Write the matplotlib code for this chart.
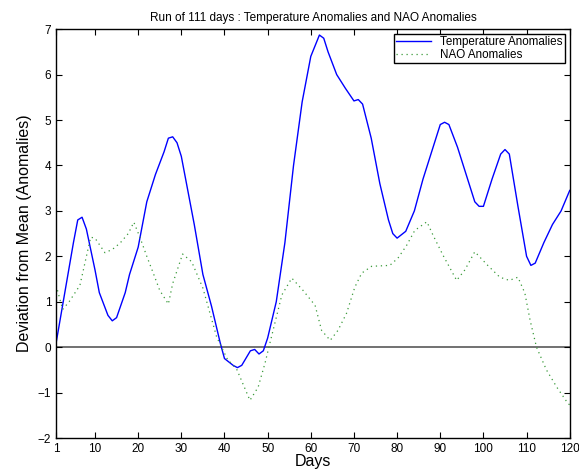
import matplotlib
matplotlib.use("Agg")
from matplotlib import pyplot as plt

plt.rcParams["font.family"] = ["Liberation Sans", "DejaVu Sans"]

# temperature anomalies
temp_days = [1, 3, 5, 6, 7, 8, 10, 11, 13, 14, 15, 17, 18, 20, 21, 22, 24, 26,
             27, 28, 29, 30, 31, 33, 35, 37, 39, 40, 42, 43, 44, 46, 47, 48, 49,
             50, 52, 54, 56, 58, 60, 62, 63, 64, 66, 68, 70, 71, 72, 74, 76, 78,
             79, 80, 82, 84, 86, 88, 90, 91, 92, 94, 96, 98, 99, 100, 102, 104,
             105, 106, 108, 110, 111, 112, 114, 116, 118, 120]
temp_vals = [0.1, 1.2, 2.3, 2.8, 2.86, 2.6, 1.7, 1.2, 0.7, 0.58, 0.65, 1.2, 1.6,
             2.2, 2.7, 3.2, 3.8, 4.3, 4.6, 4.63, 4.5, 4.2, 3.7, 2.7, 1.6, 0.9,
             0.1, -0.25, -0.4, -0.45, -0.4, -0.08, -0.05, -0.15, -0.08, 0.2, 1.0,
             2.3, 4.0, 5.4, 6.4, 6.87, 6.8, 6.5, 6.0, 5.7, 5.42, 5.45, 5.35, 4.6,
             3.6, 2.8, 2.5, 2.4, 2.55, 3.0, 3.7, 4.3, 4.9, 4.95, 4.9, 4.4, 3.8,
             3.2, 3.1, 3.1, 3.7, 4.25, 4.35, 4.25, 3.1, 2.0, 1.8, 1.85, 2.3, 2.7,
             3.0, 3.45]

# NAO anomalies
nao_days = [1, 2.5, 4, 6.5, 9, 10, 12.3, 14, 15.8, 17.7, 19, 20.4, 22, 23.5,
            25, 27, 28, 30.3, 32.4, 35, 38.2, 40.6, 42.9, 45.9, 47.8, 49.4,
            50.5, 53.3, 55.6, 58.2, 61, 62.5, 64.5, 66.3, 68.3, 70.2, 71.8,
            74.1, 78.3, 80.2, 82.2, 84.1, 86.9, 88.3, 90.6, 93.8, 95.7, 98,
            101, 103.8, 106, 108, 109.6, 110.8, 112.3, 114.6, 117, 119.6, 120]
nao_vals = [1.36, 0.83, 1.0, 1.36, 2.42, 2.4, 2.08, 2.15, 2.29, 2.5, 2.75, 2.42,
            2.0, 1.63, 1.25, 0.95, 1.4, 2.05, 1.88, 1.3, 0.22, -0.25, -0.5,
            -1.17, -0.88, -0.35, 0.08, 1.15, 1.52, 1.25, 0.92, 0.37, 0.15, 0.37,
            0.75, 1.32, 1.63, 1.78, 1.8, 1.96, 2.24, 2.57, 2.76, 2.47, 2.03,
            1.47, 1.7, 2.1, 1.8, 1.54, 1.47, 1.54, 1.19, 0.6, 0.0, -0.5, -0.88,
            -1.24, -1.27]

x_ticks = [1, 10, 20, 30, 40, 50, 60, 70, 80, 90, 100, 110, 120]

fig = plt.figure(figsize=(5.79, 4.70), dpi=100)
ax = fig.add_axes([0.097, 0.068, 0.887, 0.870])

ax.plot(temp_days, temp_vals, color="#0000ff", lw=1.0, label="Temperature Anomalies")
ax.plot(nao_days, nao_vals, color="#3a9a3a", lw=0.9, linestyle=(0, (1, 3)),
        label="NAO Anomalies")
ax.axhline(0, color="0.4", lw=1.3, zorder=1)

ax.set_xlim(1, 120)
ax.set_ylim(-2, 7)
ax.set_xticks(x_ticks)
ax.set_yticks(range(-2, 8))
ax.set_yticklabels([str(v).replace("-", "\u2212") for v in range(-2, 8)])
ax.tick_params(direction="in", top=True, right=True, labelsize=8.5, length=4)
for sp in ax.spines.values():
    sp.set_linewidth(1.0)

ax.set_title("Run of 111 days : Temperature Anomalies and NAO Anomalies",
             fontsize=8.5, pad=6)
ax.set_xlabel("Days", fontsize=11.5, labelpad=-1)
ax.set_ylabel("Deviation from Mean (Anomalies)", fontsize=11.5, labelpad=4)

leg = ax.legend(loc="upper right", fontsize=8.4, fancybox=False, framealpha=1,
                edgecolor="black", borderaxespad=0.4, handlelength=3,
                borderpad=0.2, labelspacing=0.05)
leg.get_frame().set_linewidth(1.0)

fig.savefig("out.png", dpi=100)
